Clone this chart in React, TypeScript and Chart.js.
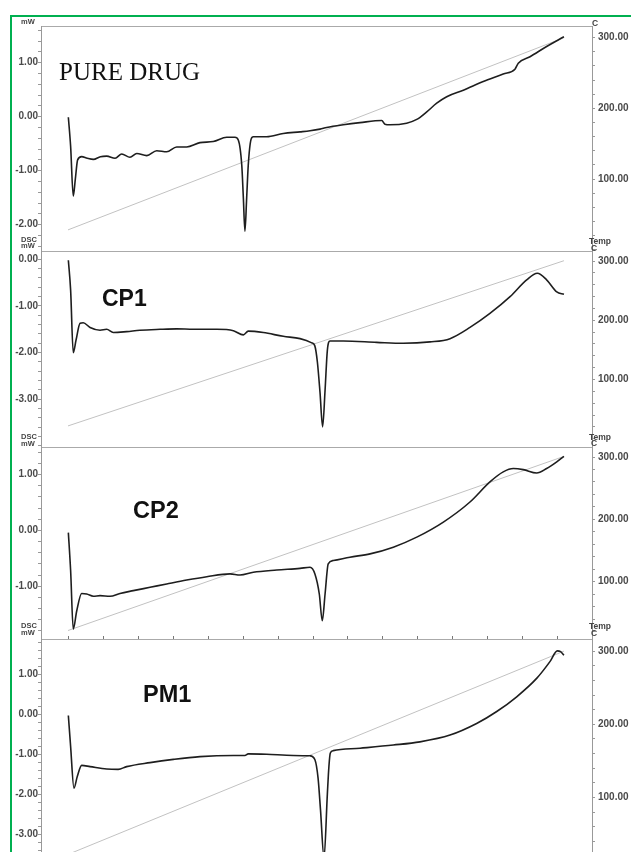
import React, { useEffect, useRef } from "react";
import { Chart, registerables } from "chart.js";

Chart.register(...registerables);

// ---- shared axis data ----
// scan time (min); tick marks every 2 min on the time axis
const TIME_TICKS = [0, 2, 4, 6, 8, 10, 12, 14, 16, 18, 20, 22, 24, 26, 28];
const TIME_MIN = -1.543;
const TIME_MAX = 29.943;
const TEMP_TICKS = [100, 200, 300];

// ---- PURE DRUG ----
const PURE_TIME = [0.02, 0.15, 0.3, 0.42, 0.55, 0.78, 1.1, 1.45, 1.85, 2.21, 2.69, 3.07, 3.54, 3.93, 4.5, 5.07, 5.64, 6.21, 6.78, 7.54, 8.3, 9.07, 9.54, 9.73, 9.93, 10.02, 10.11, 10.21, 10.3, 10.46, 10.59, 11.35, 12.3, 13.26, 13.83, 14.4, 14.78, 15.73, 16.69, 17.93, 18.11, 18.4, 19.35, 19.93, 20.5, 21.07, 21.64, 22.59, 23.73, 24.87, 25.54, 25.73, 26.4, 27.35, 28.34];
const PURE_DSC = [-0.01, -0.55, -1.47, -1.15, -0.8, -0.74, -0.77, -0.79, -0.74, -0.73, -0.77, -0.69, -0.75, -0.68, -0.72, -0.63, -0.65, -0.56, -0.56, -0.48, -0.46, -0.38, -0.38, -0.43, -0.9, -1.5, -2.12, -1.5, -0.9, -0.42, -0.37, -0.37, -0.31, -0.28, -0.26, -0.23, -0.2, -0.15, -0.11, -0.07, -0.14, -0.15, -0.12, -0.05, 0.09, 0.25, 0.37, 0.49, 0.65, 0.79, 0.88, 0.99, 1.11, 1.3, 1.48];
const PURE_TEMP_TIME = [0, 28.34];
const PURE_TEMP = [28, 300];
const PURE_DSC_TICKS = [1, 0, -1, -2];

// ---- CP1 ----
const CP1_TIME = [0.02, 0.15, 0.3, 0.46, 0.69, 0.87, 1.26, 1.83, 2.21, 2.59, 3.35, 4.11, 5.26, 6.21, 7.16, 8.5, 9.45, 10.02, 10.3, 11.16, 12.3, 13.26, 13.93, 14.1, 14.25, 14.4, 14.55, 14.69, 14.82, 14.97, 15.73, 17.64, 19.16, 20.69, 21.83, 22.97, 24.11, 25.26, 26.21, 26.82, 27.35, 27.93, 28.34];
const CP1_DSC = [-0.02, -0.66, -2.0, -1.73, -1.37, -1.36, -1.46, -1.52, -1.5, -1.57, -1.55, -1.52, -1.5, -1.49, -1.5, -1.5, -1.53, -1.62, -1.54, -1.57, -1.65, -1.7, -1.79, -1.85, -2.2, -2.85, -3.59, -2.8, -1.95, -1.75, -1.75, -1.78, -1.8, -1.77, -1.7, -1.46, -1.16, -0.8, -0.44, -0.3, -0.44, -0.7, -0.75];
const CP1_TEMP_TIME = [0, 28.34];
const CP1_TEMP = [21.6, 300.5];
const CP1_DSC_TICKS = [0, -1, -2, -3];

// ---- CP2 ----
const CP2_TIME = [0.02, 0.15, 0.3, 0.5, 0.78, 1.07, 1.45, 1.83, 2.4, 2.97, 3.73, 4.69, 5.64, 6.78, 7.93, 9.26, 9.83, 10.59, 11.93, 13.26, 13.83, 14.11, 14.36, 14.53, 14.69, 14.87, 15.16, 16.11, 17.26, 18.59, 19.93, 21.45, 22.97, 24.11, 24.87, 25.45, 26.02, 26.78, 27.35, 27.93, 28.34];
const CP2_DSC = [-0.04, -0.72, -1.77, -1.44, -1.13, -1.14, -1.18, -1.17, -1.18, -1.13, -1.08, -1.02, -0.96, -0.89, -0.83, -0.78, -0.8, -0.75, -0.71, -0.68, -0.66, -0.78, -1.14, -1.62, -1.14, -0.6, -0.54, -0.48, -0.42, -0.3, -0.12, 0.15, 0.51, 0.87, 1.05, 1.11, 1.09, 1.03, 1.11, 1.23, 1.33];
const CP2_TEMP_TIME = [0, 28.34];
const CP2_TEMP = [21.8, 301];
const CP2_DSC_TICKS = [1, 0, -1];

// ---- PM1 ----
const PM1_TIME = [0.02, 0.15, 0.34, 0.53, 0.78, 1.26, 2.21, 2.87, 3.35, 4.69, 6.02, 7.54, 9.45, 10.11, 10.3, 11.35, 12.87, 13.83, 14.11, 14.29, 14.43, 14.63, 14.82, 14.91, 14.99, 15.16, 16.69, 18.59, 20.11, 21.83, 23.35, 24.5, 25.64, 26.78, 27.54, 27.96, 28.15, 28.34];
const PM1_DSC = [-0.03, -0.81, -1.85, -1.56, -1.28, -1.31, -1.37, -1.38, -1.31, -1.21, -1.13, -1.06, -1.03, -1.03, -0.99, -1.0, -1.03, -1.04, -1.14, -1.6, -2.4, -3.6, -2.0, -1.3, -0.97, -0.91, -0.85, -0.77, -0.69, -0.52, -0.23, 0.07, 0.44, 0.9, 1.32, 1.59, 1.57, 1.48];
const PM1_TEMP_TIME = [0, 28.34];
const PM1_TEMP = [22, 300];
const PM1_DSC_TICKS = [1, 0, -1, -2, -3];

type PanelCfg = {
  time: number[];
  dsc: number[];
  tempTime: number[];
  temp: number[];
  dscTicks: number[];
  dscMin: number;
  dscMax: number;
  tMin: number;
  tMax: number;
  top: number;
  bottom: number;
  xTicks: boolean;
};

const PANELS: PanelCfg[] = [
  { time: PURE_TIME, dsc: PURE_DSC, tempTime: PURE_TEMP_TIME, temp: PURE_TEMP, dscTicks: PURE_DSC_TICKS, dscMin: -2.487, dscMax: 1.68, tMin: -1.9, tMax: 316.6, top: 26, bottom: 251, xTicks: false },
  { time: CP1_TIME, dsc: CP1_DSC, tempTime: CP1_TEMP_TIME, temp: CP1_TEMP, dscTicks: CP1_DSC_TICKS, dscMin: -4.022, dscMax: 0.178, tMin: -14.0, tMax: 316.9, top: 251, bottom: 447, xTicks: false },
  { time: CP2_TIME, dsc: CP2_DSC, tempTime: CP2_TEMP_TIME, temp: CP2_TEMP, dscTicks: CP2_DSC_TICKS, dscMin: -1.947, dscMax: 1.496, tMin: 8.2, tMax: 316.05, top: 447, bottom: 639, xTicks: false },
  { time: PM1_TIME, dsc: PM1_DSC, tempTime: PM1_TEMP_TIME, temp: PM1_TEMP, dscTicks: PM1_DSC_TICKS, dscMin: -3.45, dscMax: 1.8875, tMin: 25.3, tMax: 316.6, top: 639, bottom: 852, xTicks: true },
];

const W = 631;
const EXTRA = 4;
const TICK_FONT = { family: "'Liberation Sans', Arial, sans-serif", size: 10, weight: "bold" as const };

function minorValues(min: number, max: number, perUnit: number, unit: number) {
  const out: number[] = [];
  const k0 = Math.ceil((min / unit) * perUnit - 1e-9);
  const k1 = Math.floor((max / unit) * perUnit + 1e-9);
  for (let k = k0; k <= k1; k++) out.push((k * unit) / perUnit);
  return out;
}

function noPad(s: any) {
  s.paddingTop = 0;
  s.paddingBottom = 0;
  s.paddingLeft = 0;
  s.paddingRight = 0;
}

function Panel({ p }: { p: PanelCfg }) {
  const ref = useRef<HTMLCanvasElement>(null);
  const h = p.bottom - p.top + EXTRA;
  useEffect(() => {
    const dscMinor = minorValues(p.dscMin, p.dscMax, 5, 1);
    const tMinor = minorValues(p.tMin, p.tMax, 5, 100);
    const chart = new Chart(ref.current as HTMLCanvasElement, {
      type: "line",
      data: {
        datasets: [
          {
            data: p.time.map((t, i) => ({ x: t, y: p.dsc[i] })),
            yAxisID: "yD",
            borderColor: "#1e1e1e",
            borderWidth: 1.6,
            pointRadius: 0,
            cubicInterpolationMode: "monotone",
            order: 0,
          },
          {
            data: p.tempTime.map((t, i) => ({ x: t, y: p.temp[i] })),
            yAxisID: "yT",
            borderColor: "#c2c2c2",
            borderWidth: 1,
            pointRadius: 0,
            order: 1,
          },
        ],
      },
      options: {
        animation: false,
        responsive: false,
        devicePixelRatio: 1,
        events: [],
        layout: { padding: 0 },
        plugins: { legend: { display: false }, tooltip: { enabled: false } },
        scales: {
          x: {
            type: "linear",
            position: "top",
            min: TIME_MIN,
            max: TIME_MAX,
            afterBuildTicks: (s: any) => {
              s.ticks = TIME_TICKS.map((v) => ({ value: v }));
            },
            afterFit: (s: any) => {
              s.height = EXTRA;
              noPad(s);
            },
            ticks: { display: false },
            grid: { drawOnChartArea: false, drawTicks: p.xTicks, tickLength: 3, color: "#777" },
            border: { color: "#aaa", width: 1 },
          },
          yD: {
            type: "linear",
            position: "left",
            min: p.dscMin,
            max: p.dscMax,
            afterBuildTicks: (s: any) => {
              s.ticks = dscMinor.map((v) => ({ value: v }));
            },
            afterFit: (s: any) => {
              s.width = 41;
              noPad(s);
            },
            ticks: {
              autoSkip: false,
              padding: 0,
              color: "#4a4a4a",
              font: TICK_FONT,
              callback: (v: any) => {
                const n = Number(v);
                return p.dscTicks.some((m) => Math.abs(m - n) < 1e-6) ? n.toFixed(2) : "";
              },
            },
            grid: { drawOnChartArea: false, tickLength: 3, color: "#999" },
            border: { color: "#999", width: 1 },
          },
          yT: {
            type: "linear",
            position: "right",
            min: p.tMin,
            max: p.tMax,
            afterBuildTicks: (s: any) => {
              s.ticks = tMinor.map((v) => ({ value: v }));
            },
            afterFit: (s: any) => {
              s.width = 39;
              noPad(s);
            },
            ticks: {
              autoSkip: false,
              padding: 3,
              color: "#4a4a4a",
              font: TICK_FONT,
              callback: (v: any) => {
                const n = Number(v);
                return TEMP_TICKS.some((m) => Math.abs(m - n) < 1e-6) ? n.toFixed(2) : "";
              },
            },
            grid: { drawOnChartArea: false, tickLength: 3, color: "#999" },
            border: { color: "#999", width: 1 },
          },
        },
      } as any,
    });
    return () => chart.destroy();
  }, []);
  return (
    <canvas
      ref={ref}
      width={W}
      height={h}
      style={{ position: "absolute", left: 0, top: p.top - EXTRA, width: W, height: h }}
    />
  );
}

const SANS = "'Liberation Sans', Arial, sans-serif";

function Label({ text, left, cy, size, weight = "bold", color = "#444", family = SANS }: any) {
  return (
    <div
      style={{
        position: "absolute",
        left,
        top: cy - size * 0.5,
        fontFamily: family,
        fontSize: size,
        fontWeight: weight,
        lineHeight: 1,
        color,
        whiteSpace: "nowrap",
      }}
    >
      {text}
    </div>
  );
}

export default function App() {
  return (
    <div
      style={{
        position: "absolute",
        left: 0,
        top: 0,
        width: W,
        height: 852,
        overflow: "hidden",
        background: "#fff",
      }}
    >
      {PANELS.map((p, i) => (
        <Panel key={i} p={p} />
      ))}

      {/* axis unit labels */}
      <Label text="mW" left={21} cy={21.5} size={7.5} />
      <Label text="DSC" left={21} cy={239.5} size={7.5} />
      <Label text="mW" left={21} cy={246} size={7.5} />
      <Label text="DSC" left={21} cy={436.7} size={7.5} />
      <Label text="mW" left={21} cy={443.3} size={7.5} />
      <Label text="DSC" left={21} cy={625.5} size={7.5} />
      <Label text="mW" left={21} cy={632.7} size={7.5} />

      <Label text="C" left={592} cy={23.3} size={8.5} />
      <Label text="Temp" left={589} cy={241.5} size={8.5} />
      <Label text="C" left={591} cy={247.8} size={8.5} />
      <Label text="Temp" left={589} cy={437} size={8.5} />
      <Label text="C" left={591} cy={443.5} size={8.5} />
      <Label text="Temp" left={589} cy={626.7} size={8.5} />
      <Label text="C" left={591} cy={633.5} size={8.5} />

      {/* panel titles */}
      <div
        style={{
          position: "absolute",
          left: 59,
          top: 59,
          fontFamily: "'Liberation Serif', 'Times New Roman', serif",
          fontSize: 25,
          lineHeight: 1,
          color: "#111",
          whiteSpace: "nowrap",
        }}
      >
        PURE DRUG
      </div>
      <Label text="CP1" left={102} cy={298.6} size={23} color="#111" />
      <Label text="CP2" left={133} cy={511} size={23.5} color="#111" />
      <Label text="PM1" left={143} cy={695.2} size={23.5} color="#111" />

      {/* green frame */}
      <div
        style={{
          position: "absolute",
          left: 10,
          top: 15,
          right: -5,
          bottom: -5,
          borderTop: "2px solid #00b050",
          borderLeft: "2px solid #00b050",
          pointerEvents: "none",
        }}
      />
    </div>
  );
}
